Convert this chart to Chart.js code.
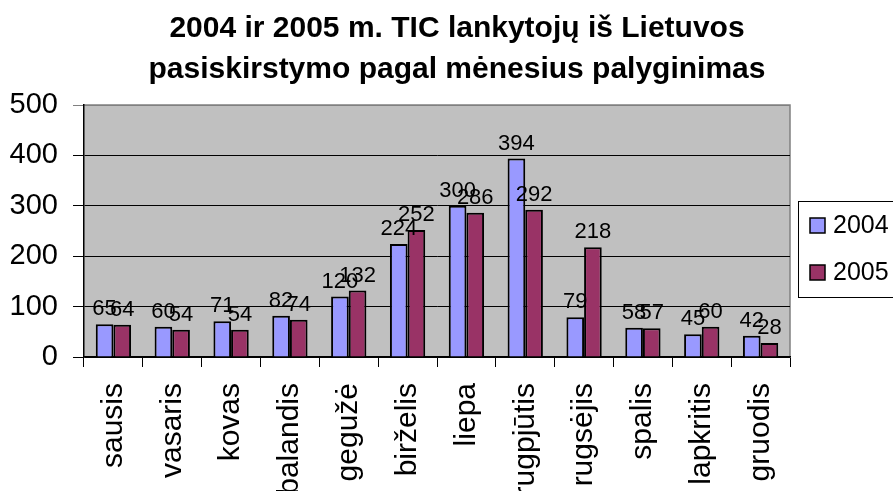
<!DOCTYPE html>
<html>
<head>
<meta charset="utf-8">
<script src="https://cdn.jsdelivr.net/npm/chart.js@4"></script>
<style>
  html, body { margin: 0; padding: 0; background: #fff; overflow: hidden; }
  /* chart is a little wider than the window; the right edge of the legend is cut off */
  #wrap { width: 914px; height: 491px; position: relative; }
</style>
</head>
<body>
<div id="wrap"><canvas id="chart"></canvas></div>
<script>
// Monthly visitors from Lithuania, 2004 vs 2005
const months = ["sausis", "vasaris", "kovas", "balandis", "gegužė", "birželis",
                "liepa", "rugpjūtis", "rugsėjis", "spalis", "lapkritis", "gruodis"];
const visitors2004 = [65, 60, 71, 82, 120, 224, 300, 394, 79, 58, 45, 42];
const visitors2005 = [64, 54, 54, 74, 132, 252, 286, 292, 218, 57, 60, 28];
const yTicks = [0, 100, 200, 300, 400, 500];

const FONT = "'Liberation Sans', Arial, sans-serif";

// grey plot background plus the grey top/right frame
const plotFrame = {
  id: "plotFrame",
  beforeDraw(chart) {
    const { ctx, chartArea: a } = chart;
    ctx.save();
    ctx.fillStyle = "#c0c0c0";
    ctx.fillRect(a.left, a.top, a.right - a.left, a.bottom - a.top);
    ctx.strokeStyle = "#808080";
    ctx.lineWidth = 1.5;
    ctx.beginPath();
    ctx.moveTo(a.left, a.top);
    ctx.lineTo(a.right, a.top);
    ctx.lineTo(a.right, a.bottom);
    ctx.stroke();
    ctx.restore();
  },
};

// numbers above every bar
const valueLabels = {
  id: "valueLabels",
  afterDatasetsDraw(chart) {
    const { ctx } = chart;
    ctx.save();
    ctx.font = `22px ${FONT}`;
    ctx.fillStyle = "#000";
    ctx.textAlign = "center";
    ctx.textBaseline = "bottom";
    chart.data.datasets.forEach((ds, i) => {
      chart.getDatasetMeta(i).data.forEach((bar, j) => {
        ctx.fillText(String(ds.data[j]), bar.x, bar.y - 4);
      });
    });
    ctx.restore();
  },
};

// boxed legend in the space kept free by the "legendSpace" axis
const boxLegend = {
  id: "boxLegend",
  afterDraw(chart) {
    const { ctx } = chart;
    const x = chart.chartArea.right + 8, y = 201, w = 130, h = 96;
    ctx.save();
    ctx.fillStyle = "#fff";
    ctx.fillRect(x, y, w, h);
    ctx.strokeStyle = "#000";
    ctx.lineWidth = 1;
    ctx.strokeRect(x + 0.5, y + 0.5, w, h);
    ctx.font = `25px ${FONT}`;
    ctx.textBaseline = "middle";
    chart.data.datasets.forEach((ds, i) => {
      const cy = y + 24 + i * 47;
      ctx.fillStyle = ds.backgroundColor;
      ctx.fillRect(x + 12, cy - 7, 15, 15);
      ctx.lineWidth = 1.5;
      ctx.strokeRect(x + 12, cy - 7, 15, 15);
      ctx.fillStyle = "#000";
      ctx.fillText(ds.label, x + 35, cy + 1);
    });
    ctx.restore();
  },
};

new Chart(document.getElementById("chart"), {
  type: "bar",
  data: {
    labels: months,
    datasets: [
      {
        label: "2004",
        data: visitors2004,
        backgroundColor: "#9999ff",
        borderColor: "#000",
        borderWidth: 2,
        categoryPercentage: 0.6,
        barPercentage: 1,
      },
      {
        label: "2005",
        data: visitors2005,
        backgroundColor: "#993366",
        borderColor: "#000",
        borderWidth: 2,
        categoryPercentage: 0.6,
        barPercentage: 1,
      },
    ],
  },
  options: {
    responsive: true,
    maintainAspectRatio: false,
    animation: false,
    plugins: {
      legend: { display: false },
      tooltip: { enabled: false },
      title: {
        display: true,
        text: ["2004 ir 2005 m. TIC lankytojų iš Lietuvos",
               "pasiskirstymo pagal mėnesius palyginimas"],
        color: "#000",
        font: { family: FONT, size: 30, weight: "bold", lineHeight: 1.367 },
        padding: { top: 8, bottom: 15 },
      },
    },
    scales: {
      x: {
        offset: true,
        grid: { drawOnChartArea: false, color: "#000", tickLength: 10, offset: true },
        border: { color: "#000", width: 1.5 },
        ticks: {
          autoSkip: false,
          minRotation: 90,
          maxRotation: 90,
          padding: 16,
          color: "#000",
          font: { family: FONT, size: 30 },
        },
        afterFit: (scale) => { scale.height = 134; },
      },
      y: {
        min: 0,
        max: 500,
        afterBuildTicks: (scale) => { scale.ticks = yTicks.map((v) => ({ value: v })); },
        grid: {
          color: (c) => (c.tick && c.tick.value === 500 ? "#808080" : "#000"),
          tickLength: 11,
        },
        border: { color: "#000", width: 1.5 },
        ticks: {
          padding: 15,
          color: "#000",
          font: { family: FONT, size: 29 },
        },
        afterFit: (scale) => { scale.width = 84; },
      },
      // empty right-hand axis: keeps room for the legend while the title stays centred on the whole canvas
      legendSpace: {
        axis: "y",
        position: "right",
        grid: { display: false },
        border: { display: false },
        ticks: { display: false },
        afterFit: (scale) => { scale.width = 124; },
      },
    },
  },
  plugins: [plotFrame, valueLabels, boxLegend],
});
</script>
</body>
</html>
